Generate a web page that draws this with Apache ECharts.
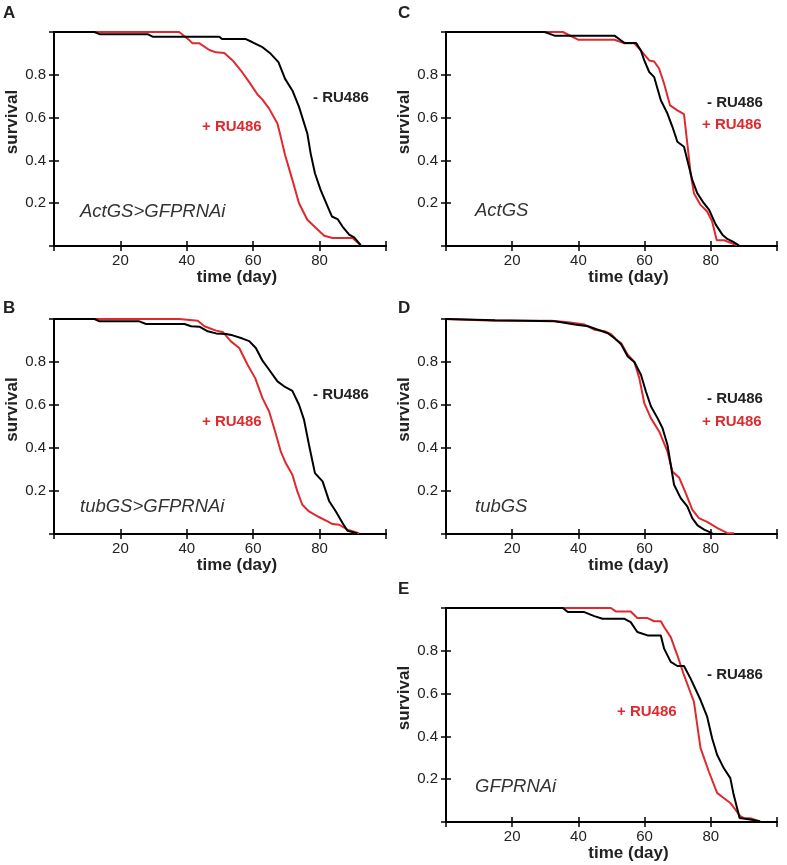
<!DOCTYPE html>
<html>
<head>
<meta charset="utf-8">
<script src="https://cdn.jsdelivr.net/npm/echarts@6/dist/echarts.min.js"></script>
<style>html,body{margin:0;padding:0;background:#fff}#c{width:787px;height:865px}</style>
</head>
<body>
<div id="c"></div>
<script>
// ---- data (x = time in days, y = survival fraction) ----
const panelA_minus = [[0,1],[12.2,1],[13.7,0.99],[28.2,0.99],[29.7,0.978],[49.8,0.978],[50.6,0.967],[57.8,0.967],[59.8,0.952],[62.8,0.929],[65.3,0.898],[67.6,0.859],[69.6,0.781],[71.8,0.727],[73.8,0.65],[76.3,0.526],[77.3,0.433],[78.6,0.34],[80.3,0.262],[82.4,0.185],[83.7,0.138],[85.4,0.126],[86.9,0.091],[88.9,0.053],[90.4,0.04],[92.4,0.004]];
const panelA_plus = [[0,1],[37.7,1],[40.7,0.963],[41.7,0.947],[43.8,0.947],[46.8,0.916],[48.8,0.905],[51.3,0.902],[53.8,0.867],[56.3,0.82],[58.8,0.766],[61.3,0.708],[62.8,0.684],[64.8,0.642],[67.3,0.572],[68.3,0.51],[69.6,0.425],[71.8,0.309],[73.8,0.2],[76.3,0.123],[78.9,0.084],[81.4,0.048],[83.9,0.037],[89.9,0.037],[92.4,0.003]];
const panelB_minus = [[0,1],[12.2,1],[13.7,0.989],[25.7,0.989],[27.7,0.977],[39.3,0.977],[41.3,0.966],[43.8,0.964],[46.3,0.943],[48.8,0.933],[51.8,0.93],[53.8,0.924],[56.8,0.909],[58.8,0.897],[60.8,0.865],[62.8,0.806],[64.8,0.764],[67.3,0.71],[69.3,0.687],[71.8,0.666],[73.8,0.601],[75.3,0.532],[76.8,0.415],[78.6,0.283],[80.9,0.245],[82.9,0.152],[84.9,0.105],[86.9,0.051],[88.4,0.015],[91.4,0.003]];
const panelB_plus = [[0,1],[37.7,1],[43.3,0.992],[45.3,0.966],[48.8,0.946],[50.8,0.94],[53.3,0.896],[55.8,0.865],[58.3,0.787],[60.6,0.725],[62.8,0.632],[64.8,0.57],[66.6,0.477],[68.3,0.384],[69.8,0.33],[71.8,0.276],[73.3,0.198],[74.8,0.136],[76.8,0.105],[79.8,0.079],[82.4,0.059],[83.9,0.046],[85.9,0.043],[88.4,0.02],[90.9,0.008],[91.9,0.003]];
const panelC_minus = [[0,1],[29.8,1],[32.8,0.983],[50.9,0.983],[52.9,0.96],[53.9,0.949],[57.4,0.949],[58.9,0.913],[59.9,0.867],[61.4,0.813],[62.9,0.789],[64.9,0.681],[66.9,0.619],[68.4,0.557],[69.9,0.487],[71.9,0.464],[72.9,0.402],[74.4,0.309],[75.9,0.247],[77.9,0.2],[79.5,0.169],[81.5,0.1],[83.5,0.053],[85,0.033],[86.5,0.022],[88.5,0.003]];
const panelC_plus = [[0,1],[35.3,1],[39.9,0.964],[50.9,0.964],[53.9,0.947],[56.9,0.947],[58.9,0.913],[61.4,0.867],[62.9,0.862],[64.4,0.828],[65.9,0.758],[67.7,0.657],[69.9,0.634],[71.9,0.616],[72.9,0.48],[73.9,0.34],[74.9,0.247],[76.9,0.192],[78.9,0.161],[80.4,0.115],[81.8,0.027],[84,0.027],[88,0.003]];
const panelD_minus = [[0,1],[14.8,0.994],[32.8,0.99],[34.8,0.985],[38.9,0.974],[42.9,0.966],[45.9,0.95],[48.9,0.934],[50.9,0.911],[52.9,0.883],[54.9,0.826],[56.9,0.8],[58.9,0.741],[60.4,0.663],[61.9,0.594],[63.9,0.539],[65.4,0.493],[66.9,0.415],[67.9,0.322],[68.9,0.229],[70.9,0.167],[72.9,0.128],[74.4,0.074],[76,0.04],[78,0.02],[80.5,0.003]];
const panelD_plus = [[0,1],[14.8,0.992],[31.8,0.992],[36.9,0.985],[41.9,0.974],[44.9,0.95],[47.9,0.943],[49.9,0.93],[51.4,0.904],[52.9,0.888],[54.9,0.834],[56.9,0.8],[58.4,0.725],[59.9,0.609],[61.9,0.539],[64.4,0.477],[66.9,0.384],[68.4,0.291],[70.4,0.263],[72.4,0.191],[74.4,0.113],[76.4,0.074],[78.9,0.056],[81.9,0.028],[85,0.004],[87,0.003]];
const panelE_minus = [[0,1],[35.3,1],[36.8,0.981],[41.8,0.981],[44.8,0.962],[47.3,0.95],[53.8,0.95],[55.8,0.934],[57.8,0.888],[60.9,0.872],[64.9,0.872],[65.9,0.81],[67.9,0.748],[69.9,0.729],[71.9,0.729],[73.9,0.67],[76.9,0.57],[78.9,0.492],[80.4,0.391],[81.9,0.314],[83.9,0.252],[85.9,0.205],[86.9,0.128],[88.7,0.019],[91.9,0.012],[94.9,0.003]];
const panelE_plus = [[0,1],[49.8,1],[51.3,0.984],[55.8,0.984],[57.8,0.953],[60.9,0.953],[62.9,0.938],[64.9,0.938],[65.9,0.911],[67.9,0.864],[69.9,0.779],[71.9,0.686],[74.9,0.562],[76.9,0.345],[79.4,0.236],[81.9,0.136],[83.9,0.112],[85.9,0.089],[88.9,0.027],[89.9,0.019],[92.4,0.016],[94.9,0.003]];

const panelLetters = ['A','C','B','D','E'];
const genotypes = ['ActGS>GFPRNAi','ActGS','tubGS>GFPRNAi','tubGS','GFPRNAi'];
const seriesNames = ['- RU486','+ RU486'];
const xTickLabels = [20,40,60,80];
const yTickLabels = [0.2,0.4,0.6,0.8];

// ---- layout ----
const RED = '#de2a2e';
const TXT = '#222';
const FONT = '"Liberation Sans", Arial, sans-serif';
const grids = [
  {left:54, top:32, width:332, height:214},
  {left:446, top:32, width:331, height:214},
  {left:54, top:319, width:332, height:215},
  {left:446, top:319, width:331, height:215},
  {left:446, top:608, width:331, height:214}
];
const panelData = [
  [panelA_minus, panelA_plus],
  [panelC_minus, panelC_plus],
  [panelB_minus, panelB_plus],
  [panelD_minus, panelD_plus],
  [panelE_minus, panelE_plus]
];
// annotation positions per panel: [minusX, minusY, plusX, plusY, genoX, genoY]
const annot = [
  [313,98, 202,127, 80,212],
  [707,103, 702,125, 475,211],
  [313,395, 202,422, 80,507],
  [707,399, 702,422, 475,507],
  [707,675, 617,712, 475,787]
];
const letterPos = [[3,13],[398,13],[3,308],[398,308],[398,589]];

const axisLine = {show:true, lineStyle:{color:'#000', width:2}};
const tick = {show:true, inside:false, length:5, lineStyle:{color:'#000', width:1.5}};
const xFmt = v => xTickLabels.indexOf(v) >= 0 ? String(v) : '';
const yFmt = v => {
  const r = Math.round(v*10)/10;
  return yTickLabels.indexOf(r) >= 0 ? r.toFixed(1) : '';
};

const xAxis = [], yAxis = [], series = [], graphic = [];
grids.forEach((g, i) => {
  xAxis.push({
    gridIndex:i, type:'value', min:0, max:100, interval:20, position:'bottom',
    axisLine, axisTick:tick, splitLine:{show:false},
    axisLabel:{formatter:xFmt, color:TXT, fontSize:15, fontFamily:FONT, margin:7},
    name:'time (day)', nameLocation:'middle', nameGap:21,
    nameTextStyle:{color:TXT, fontSize:17, fontWeight:'bold', fontFamily:FONT, padding:[0,0,0,34]}
  });
  xAxis.push({
    gridIndex:i, type:'value', min:0, max:100, interval:20, position:'top',
    axisLine, axisTick:tick, splitLine:{show:false}, axisLabel:{show:false}
  });
  yAxis.push({
    gridIndex:i, type:'value', min:0, max:1, interval:0.2, position:'left',
    axisLine, axisTick:tick, splitLine:{show:false},
    axisLabel:{formatter:yFmt, color:TXT, fontSize:15, fontFamily:FONT, margin:8},
    name:'survival', nameLocation:'middle', nameGap:32,
    nameTextStyle:{color:TXT, fontSize:17, fontWeight:'bold', fontFamily:FONT, padding:[0,0,0,34]}
  });
  yAxis.push({
    gridIndex:i, type:'value', min:0, max:1, interval:0.2, position:'right',
    axisLine, axisTick:tick, splitLine:{show:false}, axisLabel:{show:false}
  });
  panelData[i].forEach((d, k) => {
    series.push({
      type:'line', name:seriesNames[k], xAxisIndex:2*i, yAxisIndex:2*i,
      data:d, showSymbol:false, symbol:'none', smooth:false, z: k===0 ? 3 : 2,
      lineStyle:{color: k===0 ? '#000' : RED, width:2}
    });
  });
  const a = annot[i];
  graphic.push({type:'text', x:a[0], y:a[1], style:{text:seriesNames[0], fill:TXT, font:'bold 15px '+FONT, textVerticalAlign:'middle'}});
  graphic.push({type:'text', x:a[2], y:a[3], style:{text:seriesNames[1], fill:RED, font:'bold 15px '+FONT, textVerticalAlign:'middle'}});
  graphic.push({type:'text', x:a[4], y:a[5], style:{text:genotypes[i], fill:'#333', font:'italic 18.5px '+FONT, textVerticalAlign:'middle'}});
  graphic.push({type:'text', x:letterPos[i][0], y:letterPos[i][1], style:{text:panelLetters[i], fill:TXT, font:'bold 17px '+FONT, textVerticalAlign:'middle'}});
});

const chart = echarts.init(document.getElementById('c'), null, {renderer:'canvas'});
chart.setOption({
  animation:false,
  backgroundColor:'#fff',
  grid: grids,
  xAxis, yAxis, series, graphic
});
</script>
</body>
</html>
